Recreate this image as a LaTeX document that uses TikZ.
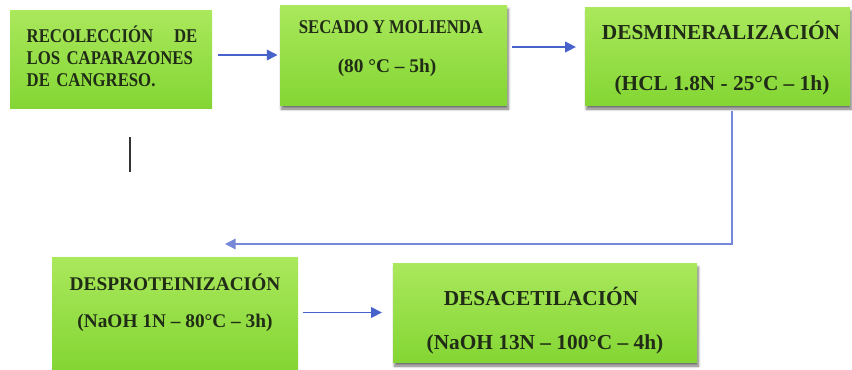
\documentclass[tikz,border=0pt]{standalone}
\usepackage{fontspec}
\setmainfont{Liberation Serif}
\newfontfamily\narrowface{Liberation Serif}[FakeStretch=0.86]
\usetikzlibrary{arrows.meta,shadows.blur}

\definecolor{boxtop}{RGB}{170,232,92}
\definecolor{boxbottom}{RGB}{132,214,52}
\definecolor{boxink}{RGB}{32,44,22}
\definecolor{flowblue}{RGB}{72,98,204}

\tikzset{every picture/.style={line width=0.75pt}}
\tikzset{
  greenbox/.style={draw=none, inner sep=0pt, top color=boxtop, bottom color=boxbottom},
  boxshadow/.style={blur shadow={shadow xshift=1pt, shadow yshift=-3pt, shadow blur steps=6, shadow opacity=55}},
  boxtext/.style={text=boxink, inner sep=0pt},
  flowarrow/.style={draw=flowblue, line width=1.1pt, -{Triangle[length=8pt,width=8pt]}}
}
\newcommand{\boxfont}[1]{\fontsize{#1}{1.25\dimexpr #1pt\relax}\selectfont\bfseries}
\newcommand{\narrowfont}[1]{\narrowface\fontsize{#1}{16.5pt}\selectfont\bfseries}

\begin{document}
\begin{tikzpicture}[x=0.75pt,y=0.75pt,yscale=-1,xscale=1]
\useasboundingbox (0,0) rectangle (852,369);

% boxes
\node [greenbox, minimum width=151.5pt, minimum height=73.5pt] (recoleccion) at (111,59) {};
\node [greenbox, boxshadow, minimum width=170.25pt, minimum height=75pt] (secado) at (393.5,55) {};
\node [greenbox, boxshadow, minimum width=198.75pt, minimum height=73.5pt] (desmin) at (717.5,56) {};
\node [greenbox, minimum width=184.5pt, minimum height=84pt] (desprot) at (175,313) {};
\node [greenbox, boxshadow, minimum width=228pt, minimum height=74.25pt] (desacet) at (545,312.5) {};

% texts
\node [boxtext, text width=128pt, align=left, font=\narrowfont{14.6}] (recoleccionT) at (112,56) {RECOLECCIÓN\hfill DE\\\mbox{LOS CAPARAZONES}\\DE CANGRESO.};
\node [boxtext, font=\narrowfont{14.6}] (secadoA) at (391,27) {SECADO Y MOLIENDA};
\node [boxtext, font=\boxfont{14.5}] (secadoB) at (387,68) {(80 °C – 5h)};
\node [boxtext, font=\boxfont{16}] (desminA) at (721,30) {DESMINERALIZACIÓN};
\node [boxtext, font=\boxfont{16}] (desminB) at (722,85) {(HCL 1.8N - 25°C – 1h)};
\node [boxtext, font=\boxfont{14.5}] (desprotA) at (175,282) {DESPROTEINIZACIÓN};
\node [boxtext, font=\boxfont{14.5}] (desprotB) at (175,323) {(NaOH 1N – 80°C – 3h)};
\node [boxtext, font=\boxfont{16}] (desacetA) at (541,296) {DESACETILACIÓN};
\node [boxtext, font=\boxfont{16}] (desacetB) at (545,344) {(NaOH 13N – 100°C – 4h)};

% connectors
\coordinate (bendR) at (732,244);
\coordinate (bendL) at (225,244);
\draw [flowarrow, shorten <=3.75pt, shorten >=1.5pt] (recoleccion.east |- secado.west) -- (secado.west);
\draw [flowarrow, shorten <=3pt, shorten >=6.5pt] ([yshift=-6pt]secado.east) -- ([yshift=-6pt]secado.east -| desmin.west);
\draw [flowarrow, draw=flowblue!75, shorten <=4pt] (desmin.south -| bendR) -- (bendR) -- (bendL);
\draw [flowarrow, shorten <=3pt, shorten >=8pt] (desprot.east |- desacet.west) -- (desacet.west);

% cursor mark
\draw [line width=1.2pt, color=black!80] (130,137) -- (130,172);

\end{tikzpicture}
\end{document}
